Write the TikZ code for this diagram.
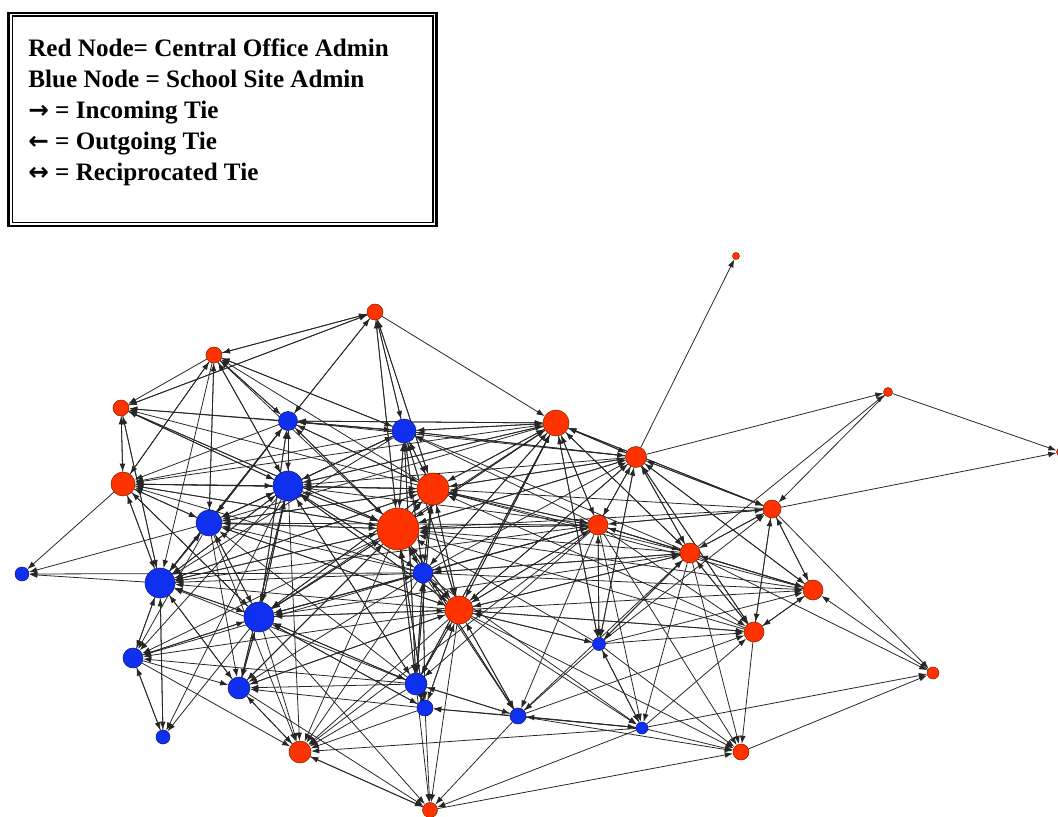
\documentclass[tikz,border=0pt]{standalone}
\usepackage{fontspec}
\setmainfont{Liberation Serif}
\newfontfamily\arrfont{DejaVu Sans}
\usetikzlibrary{arrows.meta,backgrounds}
\definecolor{nred}{RGB}{255,51,0}
\definecolor{nblue}{RGB}{16,48,240}
\newcommand{\legarr}[1]{{\arrfont\bfseries\fontsize{14pt}{14pt}\selectfont #1}}
\begin{document}
\begin{tikzpicture}[x=0.02cm,y=-0.02cm,
  rn/.style={circle,inner sep=0pt,draw=nred!55!black,line width=0.3pt,fill=nred,minimum size=#1},
  bn/.style={circle,inner sep=0pt,draw=nblue!55!black,line width=0.3pt,fill=nblue,minimum size=#1},
  edge/.style={line width=0.45pt,draw=black!85,-{Latex[length=4.6pt,width=3.3pt]}},
  lg/.style={font=\fontsize{14.3pt}{17pt}\selectfont\bfseries,anchor=base west,inner sep=0pt}]
\clip (0,0) rectangle (1058,817);
% legend
\draw[line width=1.5pt] (8.5,13) rectangle (436.5,226);
\draw[line width=0.6pt] (12.5,16) rectangle (433,222.5);
\node[lg] (l1) at (28,57) {Red Node= Central Office Admin};
\node[lg] (l2) at (28,88) {Blue Node = School Site Admin};
\node[lg] (l3) at (28,119) {\legarr{→} = Incoming Tie};
\node[lg] (l4) at (28,150) {\legarr{←} = Outgoing Tie};
\node[lg] (l5) at (28,181) {\legarr{↔} = Reciprocated Tie};
% red nodes
\node[rn=0.14cm] (r1) at (736,256) {};
\node[rn=0.32cm] (r2) at (375,312) {};
\node[rn=0.32cm] (r3) at (214,355) {};
\node[rn=0.32cm] (r4) at (121,408) {};
\node[rn=0.18cm] (r5) at (888,392) {};
\node[rn=0.52cm] (r6) at (556,423) {};
\node[rn=0.42cm] (r7) at (636,457) {};
\node[rn=0.48cm] (r8) at (123,484) {};
\node[rn=0.64cm] (r9) at (433,489) {};
\node[rn=0.84cm] (r10) at (398,529) {};
\node[rn=0.36cm] (r11) at (772,509) {};
\node[rn=0.40cm] (r12) at (598,525) {};
\node[rn=0.40cm] (r13) at (690,553) {};
\node[rn=0.40cm] (r14) at (813,590) {};
\node[rn=0.56cm] (r15) at (459,610) {};
\node[rn=0.40cm] (r16) at (754,632) {};
\node[rn=0.24cm] (r17) at (933,673) {};
\node[rn=0.44cm] (r18) at (300,752) {};
\node[rn=0.32cm] (r19) at (741,752) {};
\node[rn=0.30cm] (r20) at (430,810) {};
\node[rn=0.18cm] (rx) at (1061,452) {};
% blue nodes
\node[bn=0.38cm] (b1) at (288,421) {};
\node[bn=0.48cm] (b2) at (404,431) {};
\node[bn=0.60cm] (b3) at (288,486) {};
\node[bn=0.52cm] (b4) at (209,523) {};
\node[bn=0.28cm] (b5) at (22,574) {};
\node[bn=0.60cm] (b6) at (160,583) {};
\node[bn=0.40cm] (b7) at (423,573) {};
\node[bn=0.60cm] (b8) at (259,617) {};
\node[bn=0.40cm] (b9) at (133,658) {};
\node[bn=0.26cm] (b10) at (599,644) {};
\node[bn=0.44cm] (b11) at (239,688) {};
\node[bn=0.44cm] (b12) at (416,684) {};
\node[bn=0.32cm] (b13) at (425,708) {};
\node[bn=0.32cm] (b14) at (518,716) {};
\node[bn=0.24cm] (b15) at (642,728) {};
\node[bn=0.28cm] (b16) at (163,737) {};
% ties (target / sources)
\begin{scope}[on background layer]
\foreach \t/\ss in {r1/{r7},
 r5/{r7,r13},
 rx/{r5,r11},
 r17/{r11,r19,b15,r13},
 r2/{b2,r9,r10,b1,r3,r4},
 r3/{r2,r8,b1,b3,b4,r9,b2},
 r4/{r2,b1,b2,r9,b3,r8,b6,r10,r3},
 r8/{r4,b3,b2,r9,r10,b1,b4,b6,r6,b7,r3,b8},
 b5/{r8,b4,b6,b7},
 b16/{b6,b9,b8,b3},
 b9/{b6,b16,b8,b3,b12,r15,b4,r10,b7},
 b6/{r8,r4,r3,b4,b9,b16,b3,b2,r10,r9,b8,b7,r15,b12,b11,b1,r12},
 b4/{r3,b3,b1,b2,r10,r9,r8,b6,b7,r15,b8,r6,r12,b12},
 b1/{r3,r2,b3,b2,r9,r10,r6,b4,r7,b8,b6},
 b3/{r3,b1,b2,r9,r10,b4,r8,b8,b6,r6,r7,r12,b7,r15,b12,r4,b11},
 b2/{r2,b1,r6,r9,r10,r7,b3,b7,r12,r15,r3,r13,b12},
 r9/{b2,r2,r6,r7,r10,b3,b7,r12,r13,b1,r11,r15,b4,b8,r14,b12,r16,b6},
 r10/{b2,r9,r6,r7,b3,b1,b4,b7,r15,r12,r13,b8,b6,r8,r4,r2,b12,b13,r16,r11,b10,r14,b11,r3,b14},
 r6/{b2,r7,r9,r10,r12,b3,b7,r13,r15,b10,r11,b1,r2,b12},
 r7/{r6,r11,r12,r13,r9,r10,b7,b10,r16,r14,b2,r15},
 r11/{r7,r5,r13,r12,r14,r16,r6,b10},
 r12/{r7,r6,r13,r10,b7,r11,r9,r15,b10},
 r13/{r7,r11,r12,r6,r16,r14,b10,b14,r15,b7},
 r14/{r11,r13,r17,r16,r7,r12,b10,r15,b7},
 r16/{r13,r11,r14,b10,r15,r12,b15,b14,r7},
 b7/{r9,r10,b2,r6,b12,r15,r12,b3,b8,r13,b13},
 r15/{r10,r9,b7,b12,r12,r13,b8,b3,b13,b14,r6,r7,b10,r16,b4,b11,b2},
 b8/{b3,b4,b6,r10,r9,b7,r15,b12,b11,b1,r12,r13,r6,b13,b9,r8},
 b11/{b8,b6,b4,b3,b12,b13,r15,b9,r10,b7,r18},
 b12/{b7,r10,r15,r9,b2,b8,b13,b14,r12,r6,b3},
 b13/{b12,r15,b14,b7,r10,b8,b15},
 b10/{r12,r13,r7,r6,b15,r15},
 b14/{r15,b12,b7,r10,b10,r12,b15},
 b15/{b10,r15,r13,r12,b14,b7},
 r18/{b9,b8,b11,b3,b12,b13,r15,r10,b4,r20,b7,r12,b15},
 r19/{r13,r16,b15,b14,r20,b10,r15,r12},
 r20/{b13,b12,b14,r18,b8,r15,b11,b15}}{\foreach \s in \ss {\draw[edge] (\s) -- (\t);}}
\end{scope}
\end{tikzpicture}
\end{document}
